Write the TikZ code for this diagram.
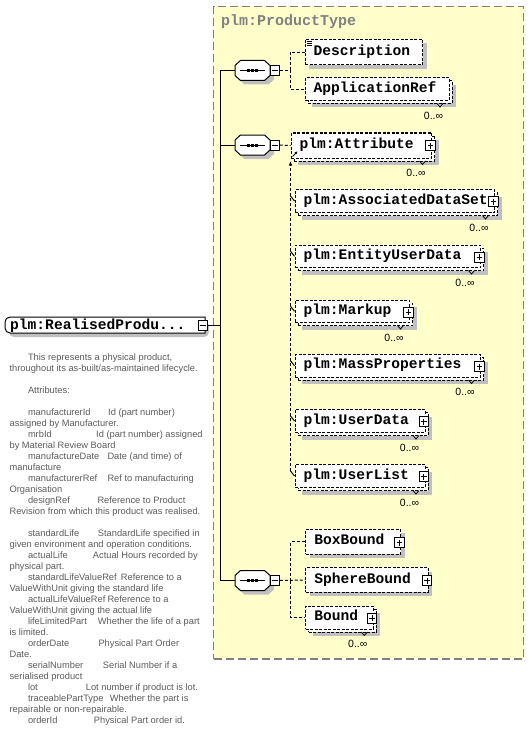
\documentclass[tikz,border=0pt]{standalone}
\usepackage{fontspec}
\setmainfont{Liberation Sans}
\newfontfamily\monofam{Liberation Mono}
\usetikzlibrary{fit,arrows.meta}
\definecolor{ylw}{HTML}{FFFFCC}
\definecolor{framec}{HTML}{808080}
\definecolor{shad}{HTML}{C0C0C0}
\definecolor{docc}{HTML}{5C5C5C}
\newcommand\elfont{\monofam\bfseries\fontsize{14.6}{16}\selectfont}
\newcommand\docfont{\fontsize{9.3}{11}\selectfont}
\newcommand\mulfont{\fontsize{10.5}{12}\selectfont}
% single element box: name x1 y1 x2 y2 text
\newcommand\elS[6]{%
  \fill[shad] (#2+4,#3+4) rectangle (#4+4,#5+4);
  \node[elbox, fit={(#2,#3)(#4,#5)}] (#1) {};
  \node[eltext] (#1-t) at ({#2+8.5},{(#3+#5)/2+3}) {#6};
}
% multiple element box: name x1 y1 x2 y2 text
\newcommand\elM[6]{%
  \fill[shad] (#2+7,#3+7) rectangle (#4+7,#5+7);
  \node[elbox, fit={(#2+3,#3+3)(#4+3,#5+3)}] (#1-b) {};
  \node[elbox, fit={(#2,#3)(#4,#5)}] (#1) {};
  \node[eltext] (#1-t) at ({#2+8.5},{(#3+#5)/2+3}) {#6};
  \draw[line width=0.8pt] ({#4-12},{#5+3}) -- ({#4-9},{#5+6.5}) -- ({#4-6},{#5+3});
  \node[mult] (#1-m) at ({#4-15.5},{#5+15}) {0..∞};
}
\newcommand\plusbox[3]{%
  \node[pmbox] (#1) at (#2,#3) {};
  \draw[line width=0.8pt] ([xshift=-2.8pt]#1.center) -- ([xshift=2.8pt]#1.center);
  \draw[line width=0.8pt] ([yshift=-3pt]#1.center) -- ([yshift=3pt]#1.center);
}
\newcommand\minusbox[3]{%
  \node[pmbox] (#1) at (#2,#3) {};
  \draw[line width=0.8pt] ([xshift=-2.8pt]#1.center) -- ([xshift=2.8pt]#1.center);
}
% sequence compositor: name cx cy
\newcommand\seqnode[3]{%
  \node[inner sep=0pt, fit={(#2-17.5,#3-10)(#2+17.5,#3+10)}] (#1) {};
  \fill[shad] (#2-12+4,#3-10+4) -- (#2+12+4,#3-10+4) -- (#2+17.5+4,#3-5+4) -- (#2+17.5+4,#3+5+4)
     -- (#2+12+4,#3+10+4) -- (#2-12+4,#3+10+4) -- (#2-17.5+4,#3+5+4) -- (#2-17.5+4,#3-5+4) -- cycle;
  \draw[fill=white, line width=1pt] (#2-12,#3-10) -- (#2+12,#3-10) -- (#2+17.5,#3-5) -- (#2+17.5,#3+5)
     -- (#2+12,#3+10) -- (#2-12,#3+10) -- (#2-17.5,#3+5) -- (#2-17.5,#3-5) -- cycle;
  \draw[line width=1pt] (#2-12.5,#3) -- (#2+12.5,#3);
  \fill (#2-5.5,#3-1.5) rectangle (#2-2.5,#3+1.5);
  \fill (#2-1.5,#3-1.5) rectangle (#2+1.5,#3+1.5);
  \fill (#2+2.5,#3-1.5) rectangle (#2+5.5,#3+1.5);
}
\newcommand\dl[3]{\node[doc] (dl#1) at (#2,{360+11*(#1-1)}) {#3};}
\newcommand\dc[3]{\node[doc] (dc#1) at (#2,{360+11*(#1-1)}) {#3};}
\begin{document}
\begin{tikzpicture}[x=1pt,y=-1pt,
  elbox/.style={draw, fill=white, inner sep=0pt, line width=1pt, dash pattern=on 3pt off 1.5pt},
  eltext/.style={anchor=base west, inner sep=0pt, font=\elfont},
  mult/.style={inner sep=0pt, font=\mulfont},
  pmbox/.style={draw, fill=white, line width=0.8pt, inner sep=0pt, minimum width=9.3pt, minimum height=10pt},
  conn/.style={line width=1pt},
  dconn/.style={line width=1pt, dash pattern=on 3pt off 2pt},
  doc/.style={anchor=base west, inner sep=0pt, text=docc, font=\docfont}]
\useasboundingbox (0,0) rectangle (530,741);
\fill[white] (0,0) rectangle (530,741);

% complex type frame
\node[fit={(213.5,6.5)(523.5,659)}, inner sep=0pt, fill=ylw, draw=framec,
      line width=1.2pt, dash pattern=on 8pt off 4pt] (ptype) {};
\node[anchor=base west, inner sep=0pt, text=framec, font=\monofam\bfseries\fontsize{15}{16}\selectfont]
      (ptitle) at (221,25.5) {plm:ProductType};

% root element
\fill[shad, rounded corners=5pt] (209,321) -- (9,321) -- (9,337) -- (209,337) -- cycle;
\node[inner sep=0pt, fit={(5,317)(205,333)}] (root) {};
\draw[fill=white, line width=1pt] (205,317) [rounded corners=5pt] -- (5,317) -- (5,333) [sharp corners] -- (205,333) -- cycle;
\node[eltext] (root-t) at (10,329.5) {plm:RealisedProdu...};
\minusbox{rootm}{203}{325}

% main connectors
\coordinate (rj) at (220,325);
\coordinate (j1) at (220,70.5);
\coordinate (j2) at (220,145);
\coordinate (j3) at (220,580.5);
\draw[conn] (rootm.east) -- (rj);
\draw[conn] (j1) -- (j3);

% sequences
\seqnode{s1}{252.5}{70.5}
\seqnode{s2}{252.5}{145}
\seqnode{s3}{252.5}{580.5}
\minusbox{s1m}{274.7}{70.5}
\minusbox{s2m}{274.7}{145}
\minusbox{s3m}{274.7}{580.5}
\draw[conn] (j1) -- (s1.west);
\draw[conn] (j2) -- (s2.west);
\draw[conn] (j3) -- (s3.west);

% sequence 1 children
\elS{desc}{305}{39.5}{422.5}{65}{Description}
\draw[line width=0.7pt] (307,41.2) -- (312,41.2) (307,43.2) -- (312,43.2) (307,45.2) -- (312,45.2);
\elM{app}{305}{78}{449}{100.5}{ApplicationRef}
\coordinate (k1) at (290,70.5);
\draw[dconn] (s1m.east) -- (k1);
\draw[dconn] (k1) |- (desc.west);
\draw[dconn] (k1) |- (app.west);

% sequence 2 children
\elM{ads}{295}{189.5}{494.5}{212.5}{plm:AssociatedDataSet}
\elM{eud}{295}{245}{480.5}{267.5}{plm:EntityUserData}
\elM{mku}{295}{300}{409.5}{322.5}{plm:Markup}
\elM{mps}{295}{354.5}{480.5}{377}{plm:MassProperties}
\elM{uda}{295}{409.5}{425}{432.5}{plm:UserData}
\elM{uli}{295}{464.5}{425}{487.5}{plm:UserList}
\elM{att}{291}{133}{431.5}{158}{plm:Attribute}
\plusbox{att-p}{430.3}{145.8}
\plusbox{ads-p}{493.3}{201.8}
\plusbox{eud-p}{479.3}{257}
\plusbox{mku-p}{408.3}{312}
\plusbox{mps-p}{479.3}{366.5}
\plusbox{uda-p}{423.8}{421.8}
\plusbox{uli-p}{423.8}{476.8}
\coordinate (k2) at (290.5,145);
\coordinate (k2t) at (290.5,161);
\coordinate (k2b) at (290.5,471);
\draw[dconn] (s2m.east) -- (att.west);
\draw[dconn, -{Latex[length=4.5pt,width=3.5pt]}] (k2b) -- (k2t);
\draw[conn] (290.5,196) -- (ads.west);
\draw[conn] (290.5,251.3) -- (eud.west);
\draw[conn] (290.5,306.3) -- (mku.west);
\draw[conn] (290.5,360.8) -- (mps.west);
\draw[conn] (290.5,416) -- (uda.west);
\draw[conn] (k2b) -- (uli.west);
\draw[line width=0.9pt, -{Latex[length=2.8pt,width=2.8pt]}] (292.5,156.5) -- (297.5,151.3);

% sequence 3 children
\elS{bb}{305.7}{529.3}{400.7}{554}{BoxBound}
\elS{sb}{305.7}{567.7}{428.3}{592.3}{SphereBound}
\elM{bnd}{305.7}{606}{373.3}{629}{Bound}
\plusbox{bb-p}{399.5}{542.5}
\plusbox{sb-p}{427.1}{580.8}
\plusbox{bnd-p}{372.1}{618.3}
\coordinate (k3) at (290.5,580.5);
\draw[dconn] (s3m.east) -- (sb.west);
\draw[dconn] (k3) |- (bb.west);
\draw[dconn] (k3) |- (bnd.west);

% documentation
\dl{1}{27.8}{This represents a physical product,}
\dl{2}{9.4}{throughout its as-built/as-maintained lifecycle.}
\dl{4}{27.8}{Attributes:}
\dl{6}{27.8}{manufacturerId}\dc{6}{108}{Id (part number)}
\dl{7}{9.4}{assigned by Manufacturer.}
\dl{8}{27.8}{mrbId}\dc{8}{96}{Id (part number) assigned}
\dl{9}{9.4}{by Material Review Board}
\dl{10}{27.8}{manufactureDate}\dc{10}{107.3}{Date (and time) of}
\dl{11}{9.4}{manufacture}
\dl{12}{27.8}{manufacturerRef}\dc{12}{107.3}{Ref to manufacturing}
\dl{13}{9.4}{Organisation}
\dl{14}{27.8}{designRef}\dc{14}{97.3}{Reference to Product}
\dl{15}{9.4}{Revision from which this product was realised.}
\dl{17}{27.8}{standardLife}\dc{17}{97.7}{StandardLife specified in}
\dl{18}{9.4}{given environment and operation conditions.}
\dl{19}{27.8}{actualLife}\dc{19}{92.7}{Actual Hours recorded by}
\dl{20}{9.4}{physical part.}
\dl{21}{27.8}{standardLifeValueRef}\dc{21}{120.7}{Reference to a}
\dl{22}{9.4}{ValueWithUnit giving the standard life}
\dl{23}{27.8}{actualLifeValueRef}\dc{23}{107.3}{Reference to a}
\dl{24}{9.4}{ValueWithUnit giving the actual life}
\dl{25}{27.8}{lifeLimitedPart}\dc{25}{97.7}{Whether the life of a part}
\dl{26}{9.4}{is limited.}
\dl{27}{27.8}{orderDate}\dc{27}{98.3}{Physical Part Order}
\dl{28}{9.4}{Date.}
\dl{29}{27.8}{serialNumber}\dc{29}{102.7}{Serial Number if a}
\dl{30}{9.4}{serialised product}
\dl{31}{27.8}{lot}\dc{31}{85.7}{Lot number if product is lot.}
\dl{32}{27.8}{traceablePartType}\dc{32}{109.7}{Whether the part is}
\dl{33}{9.4}{repairable or non-repairable.}
\dl{34}{27.8}{orderId}\dc{34}{93.7}{Physical Part order id.}
\end{tikzpicture}
\end{document}
